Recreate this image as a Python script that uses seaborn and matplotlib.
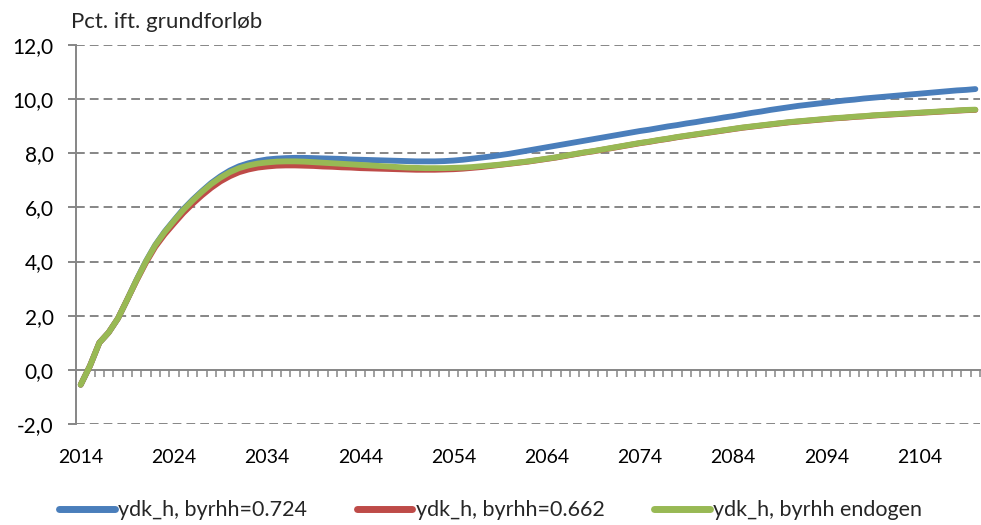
import numpy as np
import pandas as pd
import matplotlib
matplotlib.use("Agg")
import matplotlib.pyplot as plt
from matplotlib.ticker import FixedLocator
import seaborn as sns

# =====================================================
# DATA
# =====================================================

years = list(range(2014, 2111))

blue_724 = [
    -0.55, 0.15, 1.00, 1.38, 1.90, 2.60, 3.33, 4.01, 4.61, 5.10,
    5.52, 5.93, 6.28, 6.60, 6.90, 7.15, 7.36, 7.52, 7.63, 7.71,
    7.77, 7.80, 7.82, 7.83, 7.83, 7.82, 7.81, 7.80, 7.79, 7.77,
    7.76, 7.75, 7.74, 7.73, 7.72, 7.71, 7.70, 7.70, 7.70, 7.71,
    7.73, 7.76, 7.80, 7.84, 7.88, 7.93, 7.98, 8.04, 8.10, 8.16,
    8.22, 8.28, 8.34, 8.40, 8.46, 8.52, 8.58, 8.64, 8.70, 8.76,
    8.82, 8.87, 8.93, 8.99, 9.04, 9.10, 9.15, 9.21, 9.26, 9.32,
    9.37, 9.43, 9.49, 9.54, 9.60, 9.65, 9.70, 9.75, 9.79, 9.83,
    9.87, 9.91, 9.95, 9.98, 10.02, 10.05, 10.08, 10.11, 10.14, 10.17,
    10.20, 10.23, 10.26, 10.29, 10.32, 10.34, 10.37,
]

red_662 = [
    -0.55, 0.15, 1.00, 1.38, 1.90, 2.60, 3.30, 3.96, 4.54, 5.00,
    5.40, 5.79, 6.13, 6.44, 6.72, 6.96, 7.15, 7.30, 7.40, 7.47,
    7.51, 7.54, 7.55, 7.55, 7.54, 7.53, 7.51, 7.50, 7.48, 7.47,
    7.45, 7.44, 7.43, 7.42, 7.41, 7.40, 7.39, 7.39, 7.39, 7.40,
    7.41, 7.43, 7.46, 7.49, 7.53, 7.57, 7.61, 7.65, 7.69, 7.74,
    7.79, 7.84, 7.90, 7.96, 8.02, 8.07, 8.13, 8.19, 8.25, 8.31,
    8.37, 8.42, 8.48, 8.53, 8.59, 8.64, 8.69, 8.74, 8.79, 8.84,
    8.89, 8.94, 8.98, 9.02, 9.06, 9.10, 9.14, 9.17, 9.20, 9.23,
    9.26, 9.29, 9.31, 9.34, 9.36, 9.39, 9.41, 9.43, 9.45, 9.47,
    9.49, 9.51, 9.53, 9.55, 9.57, 9.59, 9.60,
]

green_endo = [
    -0.55, 0.15, 1.00, 1.38, 1.90, 2.60, 3.32, 4.00, 4.60, 5.08,
    5.50, 5.90, 6.25, 6.57, 6.86, 7.10, 7.30, 7.45, 7.55, 7.62,
    7.66, 7.69, 7.70, 7.70, 7.69, 7.67, 7.65, 7.63, 7.61, 7.59,
    7.57, 7.55, 7.53, 7.51, 7.49, 7.47, 7.46, 7.45, 7.45, 7.45,
    7.46, 7.47, 7.49, 7.52, 7.55, 7.58, 7.62, 7.66, 7.70, 7.75,
    7.80, 7.85, 7.91, 7.97, 8.03, 8.08, 8.14, 8.20, 8.26, 8.32,
    8.38, 8.43, 8.49, 8.54, 8.60, 8.65, 8.70, 8.75, 8.80, 8.85,
    8.90, 8.95, 8.99, 9.03, 9.07, 9.11, 9.15, 9.18, 9.21, 9.24,
    9.27, 9.30, 9.32, 9.35, 9.37, 9.40, 9.42, 9.44, 9.46, 9.48,
    9.50, 9.52, 9.54, 9.56, 9.58, 9.60, 9.61,
]

series_names = ["ydk_h, byrhh=0.724", "ydk_h, byrhh=0.662", "ydk_h, byrhh endogen"]
series_colors = ["#4A7EBB", "#BE4B48", "#98B954"]

y_ticks = [-2, 0, 2, 4, 6, 8, 10, 12]
y_labels = ["-2,0", "0,0", "2,0", "4,0", "6,0", "8,0", "10,0", "12,0"]
x_ticks = [2014, 2024, 2034, 2044, 2054, 2064, 2074, 2084, 2094, 2104]

df = pd.DataFrame({
    "year": years * 3,
    "value": blue_724 + red_662 + green_endo,
    "serie": [series_names[0]] * len(years) + [series_names[1]] * len(years) + [series_names[2]] * len(years),
})

# =====================================================
# STYLE
# =====================================================

sns.set_theme(style="white")
plt.rcParams['font.family'] = ['Lato', 'DejaVu Sans']

grey = "#868686"

fig = plt.figure(figsize=(9.81, 5.25), dpi=100)
ax = fig.add_axes([0.0775, 0.1924, 0.9215, 0.722])

sns.lineplot(
    data=df, x="year", y="value", hue="serie",
    hue_order=series_names, palette=series_colors,
    linewidth=4.2, ax=ax, legend=False,
    solid_capstyle="round",
)

ax.set_xlim(2013.5, 2110.5)
ax.set_ylim(-2, 12)

# horizontal dashed grid (except at 0, where the x axis sits)
for v in y_ticks:
    if v != 0:
        ax.axhline(v, color=grey, lw=1.4, ls=(0, (4.5, 2.6)), zorder=0)

for s in ["top", "right"]:
    ax.spines[s].set_visible(False)
ax.spines["left"].set_color(grey)
ax.spines["left"].set_linewidth(1.4)
ax.spines["bottom"].set_position(("data", 0))
ax.spines["bottom"].set_color(grey)
ax.spines["bottom"].set_linewidth(1.4)
ax.spines["bottom"].set_zorder(0.5)

ax.set_yticks(y_ticks)
ax.set_yticklabels(y_labels)
ax.tick_params(axis="y", which="major", left=True, direction="out", length=6, width=1.4,
               color=grey, pad=10, labelsize=15, labelcolor="black")

ax.set_xticks(x_ticks)
ax.xaxis.set_minor_locator(FixedLocator([y + 0.5 for y in range(2013, 2111)]))
ax.tick_params(axis="x", which="major", bottom=True, length=0, pad=57,
               labelsize=14, labelcolor="black")
ax.tick_params(axis="x", which="minor", bottom=True, direction="out", length=5,
               width=1.1, color=grey)
ax.set_xlabel("")
ax.set_ylabel("")

fig.text(0.072, 0.958, "Pct. ift. grundforløb", fontsize=16, ha="left", va="center")

handles = [plt.Line2D([], [], color=c, lw=5, solid_capstyle="round") for c in series_colors]
fig.legend(handles, series_names, loc="center", bbox_to_anchor=(0.50, 0.028),
           ncol=3, frameon=False, fontsize=15.5, handlelength=2.6,
           handletextpad=0.15, columnspacing=2.3)

fig.savefig("out.png", dpi=100)
